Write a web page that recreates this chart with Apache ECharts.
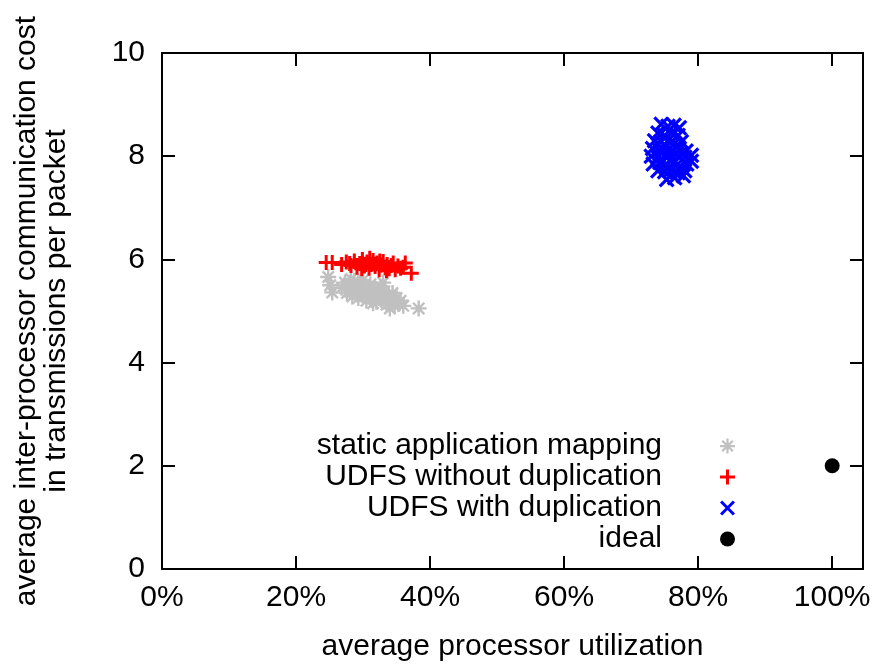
<!DOCTYPE html>
<html>
<head>
<meta charset="utf-8">
<title>processor utilization vs communication cost</title>
<script src="https://cdn.jsdelivr.net/npm/echarts@6/dist/echarts.min.js"></script>
<style>
    html, body { margin: 0; padding: 0; background: #fff; }
    #main { width: 874px; height: 669px; }
</style>
</head>
<body>
<div id="main"></div>
<script type="text/javascript">
// tick labels
var xTicks = [0, 20, 40, 60, 80, 100];
var yTicks = [0, 2, 4, 6, 8, 10];

var seriesNames = ['static application mapping', 'UDFS without duplication', 'UDFS with duplication', 'ideal'];

// [average processor utilization in %, transmissions per packet]
var staticMapping = [
    [24.8, 5.66], [25.1, 5.5], [25.4, 5.36], [26.8, 5.45], [27.3, 5.55], [27.6, 5.35],
    [28.0, 5.48], [28.2, 5.62], [28.4, 5.28], [28.7, 5.58], [29.0, 5.4], [29.3, 5.25],
    [29.6, 5.5], [29.9, 5.33], [30.0, 5.6], [30.2, 5.45], [30.5, 5.2], [30.8, 5.38],
    [31.1, 5.52], [31.4, 5.28], [31.5, 5.15], [31.7, 5.42], [32.0, 5.18], [32.3, 5.35],
    [32.6, 5.47], [32.9, 5.24], [33.0, 5.55], [33.2, 5.38], [33.5, 5.12], [33.8, 5.3],
    [34.0, 5.05], [34.1, 5.2], [34.4, 5.35], [34.7, 5.1], [35.0, 5.25], [35.3, 5.15],
    [35.6, 5.2], [36.0, 5.1], [38.3, 5.05]
];
var udfsNoDup = [
    [24.5, 5.94], [25.4, 5.94], [26.8, 5.9], [27.5, 5.95], [28.0, 5.92], [28.2, 5.88],
    [28.7, 5.97], [29.1, 5.85], [29.5, 5.92], [29.8, 5.82], [29.9, 6.0], [30.2, 5.87],
    [30.4, 5.9], [30.6, 5.95], [30.9, 5.83], [31.0, 6.02], [31.2, 5.9], [31.5, 5.98],
    [31.8, 5.86], [32.1, 5.93], [32.4, 5.8], [32.5, 5.97], [32.7, 5.89], [33.0, 5.96],
    [33.3, 5.84], [33.5, 5.78], [33.6, 5.9], [33.9, 5.82], [34.2, 5.88], [34.5, 5.93],
    [34.8, 5.8], [35.2, 5.87], [35.6, 5.83], [36.0, 5.85], [36.3, 5.93], [37.2, 5.73]
];
var udfsDup = [
    [74.5, 8.62], [75.5, 8.58], [76.4, 8.6], [77.2, 8.55], [74.0, 8.45], [75.0, 8.4],
    [76.0, 8.45], [77.0, 8.4], [73.5, 8.3], [74.5, 8.28], [75.5, 8.3], [76.5, 8.25],
    [77.5, 8.28], [73.2, 8.15], [74.2, 8.12], [75.2, 8.18], [76.2, 8.1], [76.8, 8.2],
    [77.2, 8.15], [78.2, 8.1], [73.0, 8.0], [74.0, 7.98], [75.0, 8.02], [75.8, 8.05],
    [76.0, 7.95], [77.0, 8.0], [78.0, 7.98], [79.0, 8.02], [73.3, 7.85], [74.3, 7.88],
    [74.8, 7.9], [75.3, 7.82], [76.3, 7.86], [77.3, 7.8], [78.3, 7.85], [79.0, 7.9],
    [74.0, 7.72], [75.0, 7.7], [76.0, 7.74], [77.0, 7.68], [78.0, 7.72], [75.3, 7.55],
    [76.5, 7.58], [77.8, 7.62]
];
var ideal = [[100, 2]];

// gnuplot-like point shapes
var plusPath = 'path://M0,6.4H16V9.6H0Z M6.4,0H9.6V16H6.4Z';
var crossPath = 'path://M0,2.26L2.26,0L16,13.74L13.74,16Z M16,2.26L2.26,16L0,13.74L13.74,0Z';
var starPath = 'path://M0,6.8H16V9.2H0Z M6.8,0H9.2V16H6.8Z ' +
    'M1.5,3.2L3.2,1.5L14.5,12.8L12.8,14.5Z M14.5,3.2L3.2,14.5L1.5,12.8L12.8,1.5Z';

var font = 'Liberation Sans, Arial, sans-serif';

var myChart = echarts.init(document.getElementById('main'));

// frame = the four axis lines, ticks point into the plot
function frameAxis(pos) {
    return {
        show: true,
        position: pos,
        axisLine: { show: true, onZero: false, lineStyle: { color: '#000', width: 2 } },
        axisTick: { show: true, inside: true, length: 13, lineStyle: { color: '#000', width: 2 } },
        splitLine: { show: false }
    };
}

var xBottom = Object.assign(frameAxis('bottom'), {
    type: 'value', min: 0, max: 104.6, interval: 20,
    name: 'average processor utilization',
    nameLocation: 'middle',
    nameGap: 63,
    nameTextStyle: { fontSize: 30, color: '#000', fontFamily: font },
    axisLabel: { formatter: '{value}%', showMaxLabel: false, fontSize: 30, color: '#000', margin: 14 }
});
var xTop = Object.assign(frameAxis('top'), {
    type: 'value', min: 0, max: 104.6, interval: 20,
    axisLabel: { show: false }
});
var yLeft = Object.assign(frameAxis('left'), {
    type: 'value', min: 0, max: 10, interval: 2,
    name: 'average inter-processor communication cost\nin transmissions per packet',
    nameLocation: 'middle',
    nameRotate: 90,
    nameGap: 90,
    nameTextStyle: { fontSize: 30, lineHeight: 30, color: '#000', fontFamily: font, align: 'center' },
    axisLabel: { fontSize: 30, color: '#000', margin: 17 }
});
var yRight = Object.assign(frameAxis('right'), {
    type: 'value', min: 0, max: 10, interval: 2,
    axisLabel: { show: false }
});

var option = {
    animation: false,
    backgroundColor: '#fff',
    textStyle: { fontFamily: font, color: '#000' },
    grid: { left: 162, right: 11, top: 53, bottom: 100 },
    legend: {
        data: seriesNames,
        orient: 'vertical',
        align: 'right',
        right: 134,
        top: 426,
        itemGap: 1,
        itemWidth: 15,
        itemHeight: 15,
        textStyle: { fontSize: 30, lineHeight: 30, color: '#000', fontFamily: font, padding: [0, 53, 0, 0] }
    },
    xAxis: [xBottom, xTop],
    yAxis: [yLeft, yRight],
    series: [{
        name: seriesNames[0],
        type: 'scatter',
        symbol: starPath,
        symbolSize: 16,
        itemStyle: { color: '#c0c0c0', opacity: 1 },
        data: staticMapping
    }, {
        name: seriesNames[1],
        type: 'scatter',
        symbol: plusPath,
        symbolSize: 15,
        itemStyle: { color: '#ff0000', opacity: 1 },
        data: udfsNoDup
    }, {
        name: seriesNames[2],
        type: 'scatter',
        symbol: crossPath,
        symbolSize: 16,
        itemStyle: { color: '#0000ff', opacity: 1 },
        data: udfsDup
    }, {
        name: seriesNames[3],
        type: 'scatter',
        symbol: 'circle',
        symbolSize: 15,
        itemStyle: { color: '#000', opacity: 1 },
        data: ideal
    }]
};

myChart.setOption(option);
</script>
</body>
</html>
